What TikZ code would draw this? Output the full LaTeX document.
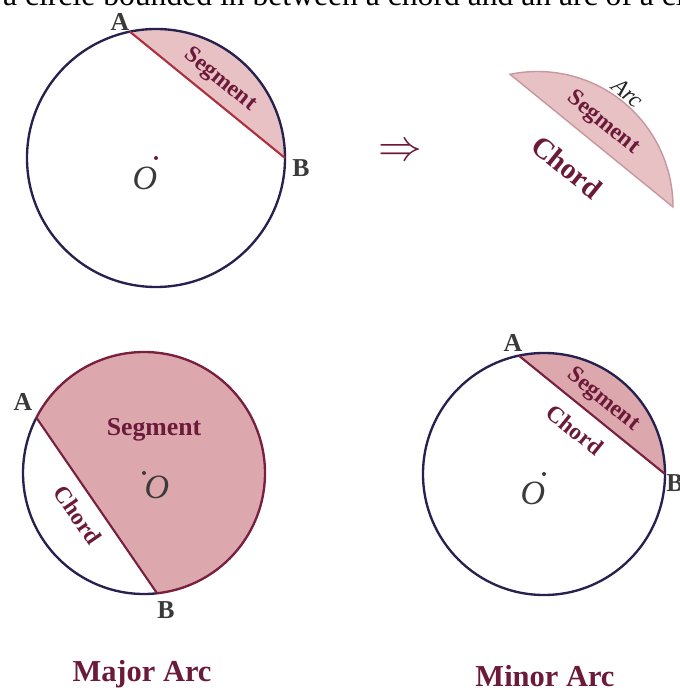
\documentclass[tikz,border=0pt]{standalone}
\usepackage{fontspec}
\setmainfont{Liberation Serif}
\usetikzlibrary{calc}
\definecolor{rimblue}{RGB}{40,32,78}
\definecolor{wine}{RGB}{108,26,58}
\definecolor{softpink}{RGB}{232,193,197}
\definecolor{rosepink}{RGB}{221,168,173}
\definecolor{edgepink}{RGB}{200,150,158}
\definecolor{chordred}{RGB}{172,48,62}
\definecolor{chordwine}{RGB}{120,32,62}
\definecolor{labelgray}{RGB}{58,58,58}

\begin{document}
\begin{tikzpicture}[x=0.03cm,y=0.03cm,
  rim/.style={draw=rimblue,line width=2pt},
  ptlabel/.style={font=\fontsize{22}{22}\selectfont\bfseries,text=labelgray},
  olabel/.style={font=\fontsize{29}{29}\selectfont\itshape,text=labelgray},
  wordlabel/.style={font=\fontsize{20}{20}\selectfont\bfseries,text=wine},
  titlelabel/.style={font=\fontsize{26}{26}\selectfont\bfseries,text=wine}]
\useasboundingbox (0,0) rectangle (680,691);
\clip (0,0) rectangle (680,691);
\node[anchor=base west,font=\fontsize{27}{27}\selectfont] (intro) at (-1,685) {a circle bounded in between a chord and an arc of a circle};

\coordinate (o1) at (156,533);
\coordinate (a1) at ($(o1)+(101.7:129)$);
\coordinate (b1) at ($(o1)+(0:129)$);
\fill[softpink] (b1) arc[start angle=0,end angle=101.7,radius=129] -- cycle;
\draw[rim] (o1) circle[radius=129];
\draw[chordred,line width=1.8pt] (a1) -- (b1);
\fill[wine] (o1) circle[radius=2];
\node[ptlabel] (la1) at (120,669) {A};
\node[ptlabel] (lb1) at (301,523) {B};
\node[olabel] (lo1) at (145,513) {O};
\node[wordlabel,rotate=-39] (seg1) at (220,611) {Segment};

\node[text=wine,font=\fontsize{24}{24}\selectfont,scale=1.5] (imp) at (400,539) {$\Rightarrow$};

\coordinate (o2) at (537.5,484);
\coordinate (a2) at ($(o2)+(101.7:135.5)$);
\coordinate (b2) at ($(o2)+(0:135.5)$);
\filldraw[fill=softpink,draw=edgepink,line width=1.2pt] (b2) arc[start angle=0,end angle=101.7,radius=135.5] -- cycle;
\node[font=\fontsize{20}{20}\selectfont\itshape,text=black!85,rotate=-40] (arc2) at (628,598) {Arc};
\node[wordlabel,rotate=-39] (seg2) at (603,568) {Segment};
\node[font=\fontsize{25}{25}\selectfont\bfseries,text=wine,rotate=-39] (chd2) at (567,524) {Chord};

\coordinate (o3) at (144,218);
\coordinate (a3) at ($(o3)+(152.8:121)$);
\coordinate (b3) at ($(o3)+(-83.8:121)$);
\fill[rosepink] (a3) arc[start angle=152.8,end angle=-83.8,radius=121] -- cycle;
\draw[draw=chordwine,line width=2pt] (a3) arc[start angle=152.8,end angle=-83.8,radius=121];
\draw[rim] (b3) arc[start angle=276.2,end angle=152.8,radius=121];
\draw[chordwine,line width=1.8pt] (a3) -- (b3);
\fill[labelgray] (o3) circle[radius=2];
\node[ptlabel] (la3) at (23,289) {A};
\node[ptlabel] (lb3) at (166,81) {B};
\node[olabel] (lo3) at (157,204) {O};
\node[font=\fontsize{22}{22}\selectfont\bfseries,text=wine] (seg3) at (154,261) {Segment};
\node[wordlabel,rotate=-55.6] (chd3) at (78,176) {Chord};

\coordinate (o4) at (544,217);
\coordinate (a4) at ($(o4)+(102:121)$);
\coordinate (b4) at ($(o4)+(0:121)$);
\fill[rosepink] (b4) arc[start angle=0,end angle=102,radius=121] -- cycle;
\draw[rim] (o4) circle[radius=121];
\draw[chordwine,line width=1.8pt] (a4) -- (b4);
\fill[labelgray] (o4) circle[radius=2];
\node[ptlabel] (la4) at (513,348) {A};
\node[ptlabel] (lb4) at (675,208) {B};
\node[olabel] (lo4) at (533,198) {O};
\node[wordlabel,rotate=-39] (seg4) at (603,291) {Segment};
\node[wordlabel,rotate=-39] (chd4) at (575,261) {Chord};

\node[titlelabel] (major) at (142,17) {Major Arc};
\node[titlelabel] (minor) at (545,15) {Minor Arc};
\end{tikzpicture}
\end{document}
